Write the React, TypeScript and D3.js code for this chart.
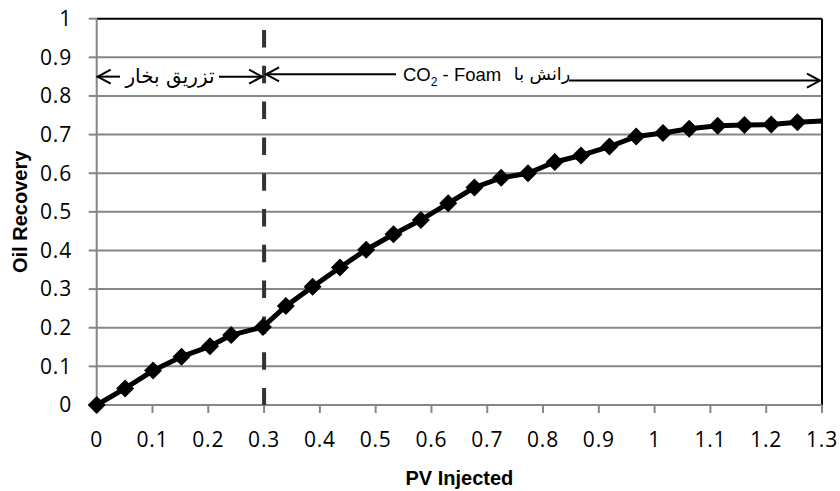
import React from 'react';
import * as d3 from 'd3';

// PV injected vs oil recovery
const pvInjected = [0, 0.051, 0.101, 0.152, 0.203, 0.241, 0.298, 0.339, 0.387, 0.436, 0.483, 0.532, 0.581, 0.63, 0.677, 0.725, 0.773, 0.821, 0.868, 0.919, 0.967, 1.015, 1.062, 1.113, 1.161, 1.209, 1.256, 1.32];
const oilRecovery = [0, 0.043, 0.089, 0.125, 0.152, 0.181, 0.202, 0.256, 0.306, 0.356, 0.402, 0.442, 0.479, 0.522, 0.563, 0.588, 0.6, 0.629, 0.646, 0.669, 0.695, 0.704, 0.715, 0.723, 0.725, 0.726, 0.732, 0.737];

const xTicks = [0, 0.1, 0.2, 0.3, 0.4, 0.5, 0.6, 0.7, 0.8, 0.9, 1, 1.1, 1.2, 1.3];
const yTicks = [0, 0.1, 0.2, 0.3, 0.4, 0.5, 0.6, 0.7, 0.8, 0.9, 1];

const switchPV = 0.3;
const steamLabel = 'تزریق بخار';
const foamLabelLatin = 'CO';
const foamLabelArabic = 'رانش با';

const width = 840;
const height = 491;
const margin = { top: 18.7, right: 18, bottom: 86, left: 96.7 };

const tickFont = "'Open Sans', sans-serif";
const titleFont = "'Liberation Sans', Arial, sans-serif";
const arabicFont = "'DejaVu Sans', sans-serif";

const arrowHead = (x: number, y: number, dir: number) =>
  `M${x + dir * 13},${y - 7}L${x},${y}L${x + dir * 13},${y + 7}`;

export default function App() {
  const x = d3.scaleLinear().domain([0, 1.3]).range([margin.left, width - margin.right]);
  const y = d3.scaleLinear().domain([0, 1]).range([height - margin.bottom, margin.top]);

  const points = pvInjected.map((v, i) => [v, oilRecovery[i]] as [number, number]);
  const line = d3
    .line<[number, number]>()
    .x(d => x(d[0]))
    .y(d => y(d[1]));

  const x0 = x(0);
  const x1 = x(1.3);
  const yBottom = y(0);
  const yTop = y(1);
  const xs = x(switchPV);

  // arrow rows
  const ySteam = y(0.85);
  const yFoamL = y(0.856);
  const yFoamR = y(0.84);

  return (
    <svg
      width={width}
      height={height}
      style={{ position: 'absolute', left: 0, top: 0, background: '#fff' }}
    >
      <defs>
        <clipPath id="plot">
          <rect x={x0 - 10} y={yTop - 10} width={x1 - x0 + 10} height={yBottom - yTop + 20} />
        </clipPath>
      </defs>

      {/* gridlines */}
      {yTicks.slice(1, -1).map(t => (
        <line key={t} x1={x0} x2={x1} y1={y(t)} y2={y(t)} stroke="#868686" strokeWidth={2} />
      ))}
      <line x1={x0} x2={x1} y1={yTop} y2={yTop} stroke="#000" strokeWidth={2} />
      <line x1={x1} x2={x1} y1={yTop} y2={yBottom} stroke="#000" strokeWidth={2} />

      {/* axes */}
      <line x1={x0} x2={x0} y1={yTop} y2={yBottom} stroke="#868686" strokeWidth={2} />
      <line x1={x0 - 8} x2={x1} y1={yBottom} y2={yBottom} stroke="#868686" strokeWidth={2} />
      {yTicks.map(t => (
        <g key={t}>
          <line x1={x0 - 8} x2={x0} y1={y(t)} y2={y(t)} stroke="#868686" strokeWidth={2} />
          <text
            x={72}
            y={y(t)}
            dy="0.35em"
            textAnchor="end"
            fontFamily={tickFont}
            fontSize={21}
            letterSpacing={0.8}
          >
            {t}
          </text>
        </g>
      ))}
      {xTicks.map(t => (
        <g key={t}>
          <line x1={x(t)} x2={x(t)} y1={yBottom} y2={yBottom + 8} stroke="#868686" strokeWidth={2} />
          <text
            x={x(t)}
            y={440}
            dy="0.35em"
            textAnchor="middle"
            fontFamily={tickFont}
            fontSize={21}
            letterSpacing={0.8}
          >
            {t}
          </text>
        </g>
      ))}

      <text
        x={(x0 + x1) / 2}
        y={478}
        dy="0.35em"
        textAnchor="middle"
        fontFamily={titleFont}
        fontWeight="bold"
        fontSize={20}
      >
        PV Injected
      </text>
      <text
        transform={`translate(20,${(yTop + yBottom) / 2}) rotate(-90)`}
        dy="0.35em"
        textAnchor="middle"
        fontFamily={titleFont}
        fontWeight="bold"
        fontSize={20}
      >
        Oil Recovery
      </text>

      {/* phase boundary */}
      <line
        x1={xs}
        x2={xs}
        y1={30}
        y2={yBottom}
        stroke="#333"
        strokeWidth={4}
        strokeDasharray="17.5 18.3"
      />

      {/* series */}
      <g clipPath="url(#plot)">
        <path d={line(points) ?? ''} fill="none" stroke="#000" strokeWidth={5} strokeLinejoin="round" />
        {points.map((p, i) => (
          <path
            key={i}
            transform={`translate(${x(p[0])},${y(p[1])})`}
            d="M0,-9L9,0L0,9L-9,0Z"
            fill="#000"
          />
        ))}
      </g>

      {/* steam injection span */}
      <g stroke="#000" strokeWidth={2} fill="none">
        <line x1={x0} x2={120} y1={ySteam} y2={ySteam} />
        <line x1={219} x2={xs - 2} y1={ySteam} y2={ySteam} />
        <path d={arrowHead(x0 + 1, ySteam, 1)} />
        <path d={arrowHead(xs - 2, ySteam, -1)} />
      </g>
      <text
        x={170}
        y={ySteam}
        dy="0.3em"
        textAnchor="middle"
        fontFamily={arabicFont}
        fontSize={20}
      >
        {steamLabel}
      </text>

      {/* CO2 foam span */}
      <g stroke="#000" strokeWidth={2} fill="none">
        <line x1={xs + 2} x2={396} y1={yFoamL} y2={yFoamL} />
        <line x1={569} x2={x1 - 2} y1={yFoamR} y2={yFoamR} />
        <path d={arrowHead(xs + 2, yFoamL, 1)} />
        <path d={arrowHead(x1 - 2, yFoamR, -1)} />
      </g>
      <text x={403} y={yFoamL} dy="0.35em" fontFamily={titleFont} fontSize={18.5}>
        {foamLabelLatin}
        <tspan fontSize={12} dy={5}>2</tspan>
        <tspan dy={-5}> - Foam</tspan>
      </text>
      <text
        x={542}
        y={yFoamL}
        dy="0.35em"
        textAnchor="middle"
        fontFamily={arabicFont}
        fontSize={17.5}
      >
        {foamLabelArabic}
      </text>
    </svg>
  );
}
